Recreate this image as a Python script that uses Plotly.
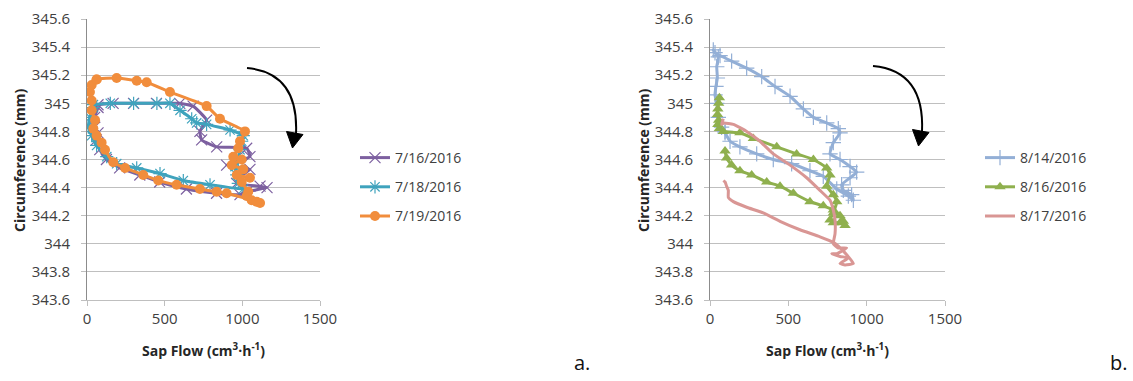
import plotly.graph_objects as go

# ---- data: sap flow (cm3/h) vs. stem circumference (mm) ----
flow_0716 = [71, 168, 300, 447, 597, 683, 770, 727, 738, 835, 1028, 1049, 899, 1049, 985,
             963, 1114, 1159, 1028, 985, 834, 640, 468, 340, 210, 125, 82, 60, 71, 49, 49, 71]
circ_0716 = [344.99, 345.00, 345.00, 345.00, 345.00, 344.98, 344.88, 344.80, 344.74, 344.69,
             344.68, 344.62, 344.56, 344.53, 344.48, 344.43, 344.41, 344.40, 344.37, 344.35,
             344.36, 344.39, 344.44, 344.49, 344.54, 344.60, 344.67, 344.74, 344.79, 344.83,
             344.90, 344.97]

flow_0718 = [41, 150, 300, 450, 534, 599, 674, 706, 770, 921, 1006, 996, 985, 974, 953, 964,
             974, 1006, 792, 620, 470, 320, 191, 127, 62, 30, 9, 19, 41]
circ_0718 = [344.99, 345.00, 345.00, 345.00, 345.00, 344.95, 344.89, 344.86, 344.85, 344.81,
             344.77, 344.73, 344.67, 344.60, 344.55, 344.49, 344.43, 344.39, 344.42, 344.45,
             344.50, 344.54, 344.57, 344.62, 344.70, 344.77, 344.83, 344.90, 344.97]

flow_0719 = [62, 191, 320, 384, 534, 770, 856, 1017, 985, 974, 942, 996, 932, 1006, 964, 1049,
             996, 1038, 1028, 1060, 1114, 1092, 899, 835, 727, 577, 459, 362, 245, 169, 116,
             94, 62, 41, 52, 30, 30, 19, 30, 62]
circ_0719 = [345.17, 345.18, 345.16, 345.15, 345.08, 344.98, 344.89, 344.80, 344.73, 344.68,
             344.62, 344.60, 344.56, 344.53, 344.49, 344.47, 344.44, 344.37, 344.34, 344.31,
             344.29, 344.30, 344.36, 344.37, 344.39, 344.42, 344.45, 344.49, 344.54, 344.58,
             344.67, 344.72, 344.77, 344.82, 344.88, 344.95, 345.02, 345.08, 345.13, 345.17]

flow_0814 = [96, 74, 53, 43, 32, 38, 47, 43, 53, 21, 32, 64, 138, 234, 330, 415, 511, 596, 660,
             745, 819, 830, 787, 766, 830, 894, 936, 894, 840, 851, 904, 915, 883, 809, 723,
             638, 521, 404, 298, 191, 128, 96]
circ_0814 = [344.80, 344.83, 344.90, 345.00, 345.06, 345.12, 345.18, 345.26, 345.33, 345.38,
             345.36, 345.34, 345.30, 345.25, 345.19, 345.12, 345.05, 344.96, 344.90, 344.86,
             344.82, 344.79, 344.72, 344.64, 344.60, 344.55, 344.51, 344.47, 344.42, 344.38,
             344.35, 344.31, 344.34, 344.39, 344.48, 344.52, 344.57, 344.60, 344.64, 344.69,
             344.73, 344.79]

flow_0816 = [60, 55, 50, 48, 55, 50, 60, 85, 191, 277, 426, 553, 660, 745, 766, 745, 787, 809,
             787, 766, 787, 830, 862, 851, 830, 787, 723, 638, 532, 447, 362, 266, 191, 138,
             106, 96]
circ_0816 = [345.04, 345.00, 344.96, 344.92, 344.88, 344.85, 344.82, 344.80, 344.79, 344.75,
             344.69, 344.64, 344.60, 344.54, 344.49, 344.41, 344.35, 344.30, 344.22, 344.17,
             344.15, 344.15, 344.13, 344.16, 344.20, 344.24, 344.27, 344.30, 344.36, 344.41,
             344.44, 344.49, 344.52, 344.56, 344.61, 344.66]

flow_0817 = [85, 74, 90, 149, 234, 319, 404, 511, 617, 702, 766, 787, 798, 798, 787, 819, 872,
             809, 777, 830, 883, 830, 862, 915, 850, 787, 702, 574, 447, 340, 234, 149, 117,
             117, 106, 96, 85]
circ_0817 = [344.89, 344.85, 344.86, 344.85, 344.80, 344.73, 344.64, 344.56, 344.47, 344.38,
             344.31, 344.24, 344.17, 344.07, 344.00, 343.97, 343.97, 343.93, 343.93, 343.91,
             343.90, 343.86, 343.85, 343.86, 343.95, 344.01, 344.05, 344.10, 344.16, 344.22,
             344.26, 344.30, 344.33, 344.38, 344.41, 344.44, 344.45]

y_ticks = [343.6, 343.8, 344.0, 344.2, 344.4, 344.6, 344.8, 345.0, 345.2, 345.4, 345.6]
y_tick_text = ["343.6", "343.8", "344", "344.2", "344.4", "344.6", "344.8", "345",
               "345.2", "345.4", "345.6"]
x_ticks = [0, 500, 1000, 1500]

W, H = 1133, 381
FONT = "Open Sans"
TXT = "#404040"
GRID = "#BFBFBF"


def px(x):
    return x / W


def py(y):
    return 1 - y / H


fig = go.Figure()


def add(x, y, name, color, xa, ya, legend, marker=None):
    fig.add_trace(go.Scatter(
        x=x, y=y, name=name, xaxis=xa, yaxis=ya, legend=legend, legendgroup=name,
        mode="lines+markers" if marker else "lines",
        line=dict(color=color, width=3, shape="spline", smoothing=0.4),
        marker=marker,
    ))


add(flow_0716, circ_0716, "7/16/2016", "#7D60A0", "x", "y", "legend",
    dict(symbol="x-thin-open", size=11, line=dict(color="#A593C6", width=1.2)))
add(flow_0718, circ_0718, "7/18/2016", "#3FA3BD", "x", "y", "legend",
    dict(symbol="asterisk-open", size=11, line=dict(color="#7CCADF", width=1.2)))
add(flow_0719, circ_0719, "7/19/2016", "#F18D3C", "x", "y", "legend",
    dict(symbol="circle", size=10, color="#F18D3C"))

add(flow_0814, circ_0814, "8/14/2016", "#93AFD6", "x2", "y2", "legend2",
    dict(symbol="cross-thin-open", size=11, line=dict(color="#93AFD6", width=1.2)))
add(flow_0816, circ_0816, "8/16/2016", "#8FB04E", "x2", "y2", "legend2",
    dict(symbol="triangle-up", size=10, color="#8FB04E"))
add(flow_0817, circ_0817, "8/17/2016", "#D99694", "x2", "y2", "legend2")

x_dom_a = [px(87), px(320)]
x_dom_b = [px(710), px(945)]
y_dom = [py(300), py(19)]

xaxis_common = dict(range=[0, 1500], tickvals=x_ticks, showgrid=False, zeroline=False,
                    showline=True, linecolor=GRID, linewidth=1, ticks="outside", ticklen=5,
                    tickcolor=GRID, tickfont=dict(family=FONT, size=15, color=TXT),
                    automargin=False, fixedrange=True)
yaxis_common = dict(range=[343.6, 345.6], tickvals=y_ticks, ticktext=y_tick_text,
                    showgrid=True, gridcolor=GRID, gridwidth=1, zeroline=False,
                    showline=True, linecolor="#8C8C8C", linewidth=1, ticks="outside",
                    ticklen=5, tickcolor=GRID, ticklabelstandoff=8,
                    tickfont=dict(family=FONT, size=15, color=TXT),
                    automargin=False, fixedrange=True)

legend_common = dict(font=dict(family=FONT, size=14, color=TXT), bgcolor="rgba(0,0,0,0)",
                     tracegroupgap=8, itemwidth=30, xanchor="left", yanchor="top")

fig.update_layout(
    width=W, height=H,
    margin=dict(l=0, r=0, t=0, b=0, pad=0, autoexpand=False),
    paper_bgcolor="white", plot_bgcolor="white",
    showlegend=True,
    xaxis=dict(domain=x_dom_a, anchor="y", **xaxis_common),
    yaxis=dict(domain=y_dom, anchor="x", **yaxis_common),
    xaxis2=dict(domain=x_dom_b, anchor="y2", **xaxis_common),
    yaxis2=dict(domain=y_dom, anchor="x2", **yaxis_common),
    legend=dict(x=px(355), y=py(142), **legend_common),
    legend2=dict(x=px(980), y=py(142), **legend_common),
)

# axis titles and panel letters
for cx in (203, 827):
    fig.add_annotation(x=px(cx), y=py(350), xref="paper", yref="paper", showarrow=False,
                       xanchor="center", yanchor="middle",
                       text="<b>Sap Flow (cm<sup>3</sup>·h<sup>-1</sup>)</b>",
                       font=dict(family=FONT, size=14, color="#262626"))
for cx in (19, 643):
    fig.add_annotation(x=px(cx), y=py(160), xref="paper", yref="paper", showarrow=False,
                       xanchor="center", yanchor="middle",
                       text="<b>Circumference (mm)</b>", textangle=-90,
                       font=dict(family=FONT, size=14, color="#262626"))
for cx, lab in ((582, "a."), (1119, "b.")):
    fig.add_annotation(x=px(cx), y=py(362), xref="paper", yref="paper", showarrow=False,
                       xanchor="center", yanchor="middle",
                       text=lab, font=dict(family=FONT, size=20, color="#111111"))


# curved arrows indicating the direction of the daily hysteresis loop
def arrow(dx, dy):
    def p(x, y):
        return f"{px(x + dx):.5f},{py(y + dy):.5f}"
    shaft = f"M {p(247, 68)} C {p(280, 71)} {p(298, 92)} {p(296, 134)}"
    head = f"M {p(286.5, 131.5)} L {p(303, 134.5)} L {p(292.5, 148)} Z"
    fig.add_shape(type="path", path=shaft, xref="paper", yref="paper",
                  line=dict(color="black", width=2))
    fig.add_shape(type="path", path=head, xref="paper", yref="paper",
                  line=dict(color="black", width=1), fillcolor="black")


arrow(0, 0)
arrow(626, -2)

fig.write_html("out.html")
